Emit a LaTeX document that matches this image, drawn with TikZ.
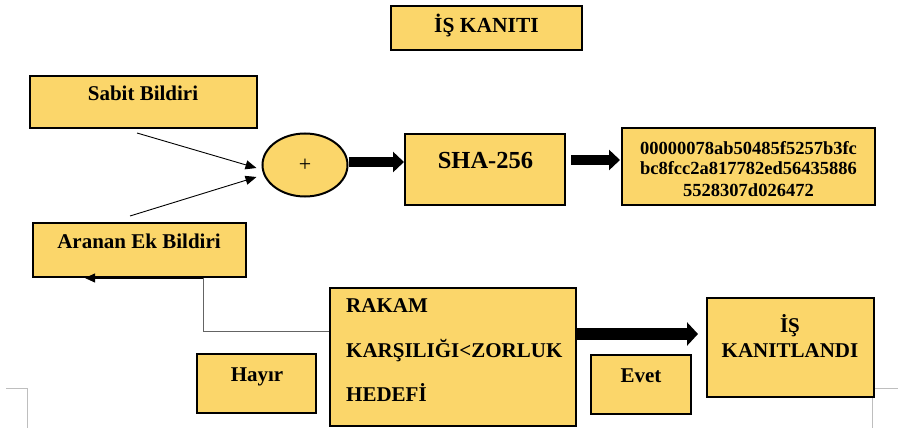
\documentclass[tikz,border=0pt]{standalone}
\usepackage{fontspec}
\setmainfont{Liberation Serif}
\usetikzlibrary{arrows.meta,shapes.geometric}
\definecolor{boxfill}{RGB}{251,214,106}
\definecolor{cornermark}{RGB}{190,190,190}
\definecolor{linkgray}{RGB}{100,100,100}
\begin{document}
\begin{tikzpicture}[x=1pt,y=-1pt,
  box/.style={draw=black, line width=2.4pt, fill=boxfill, rectangle, inner sep=0pt},
  lbl/.style={font=\bfseries\fontsize{21}{24}\selectfont, anchor=base, inner sep=0pt},
  fat/.style={line width=10pt, -{Triangle[length=11pt,width=20pt]}},
  fatter/.style={line width=12pt, -{Triangle[length=11pt,width=23pt]}},
  thin/.style={line width=0.9pt, -{Triangle[length=11pt,width=9pt]}},
  link/.style={draw=linkgray, line width=1pt}]
\useasboundingbox (0,0) rectangle (898,428);

% page corner marks
\draw[cornermark, line width=1pt] (6,388) -- (27,388) -- (27,428);
\draw[cornermark, line width=1pt] (872,428) -- (872,388) -- (898,388);

% boxes
\node[box, minimum width=190.6pt, minimum height=43.6pt] (title) at (486.5,28) {};
\node[box, minimum width=226.6pt, minimum height=51.6pt] (sabit) at (143.5,102) {};
\node[box, minimum width=212.6pt, minimum height=53.6pt] (aranan) at (139.5,250) {};
\node[draw=black, line width=2pt, fill=boxfill, ellipse, inner sep=0pt,
      minimum width=85pt, minimum height=63pt,
      font=\fontsize{22}{22}\selectfont] (plus) at (305,165) {+};
\node[box, minimum width=159.6pt, minimum height=70.6pt] (sha) at (485,169.5) {};
\node[box, minimum width=252.6pt, minimum height=76.6pt] (hash) at (748.5,166.5) {};
\node[box, minimum width=245.6pt, minimum height=137.6pt] (rakam) at (453,357) {};
\node[box, minimum width=118.6pt, minimum height=58.6pt] (hayir) at (256.5,383.5) {};
\node[box, minimum width=99.6pt, minimum height=58.6pt] (evet) at (641,384.5) {};
\node[box, minimum width=166.6pt, minimum height=98.6pt] (kanit) at (790.5,347.5) {};

% texts
\node[lbl, font=\bfseries\fontsize{21.5}{24}\selectfont] at (486.5,33) {İŞ KANITI};
\node[lbl] at (143,100) {Sabit Bildiri};
\node[lbl] at (139,248) {Aranan Ek Bildiri};
\node[lbl, font=\bfseries\fontsize{24.5}{28}\selectfont] at (485.5,168) {SHA-256};
\node[lbl, font=\bfseries\fontsize{18.5}{21}\selectfont] at (748.5,154) {00000078ab50485f5257b3fc};
\node[lbl, font=\bfseries\fontsize{18.5}{21}\selectfont] at (748.5,175) {bc8fcc2a817782ed56435886};
\node[lbl, font=\bfseries\fontsize{18.5}{21}\selectfont] at (748.5,196) {5528307d026472};
\node[lbl, anchor=base west] at (346,312) {RAKAM};
\node[lbl, anchor=base west] at (346,357) {KARŞILIĞI<ZORLUK};
\node[lbl, anchor=base west] at (346,401) {HEDEFİ};
\node[lbl] at (790,332) {İŞ};
\node[lbl] at (790,357) {KANITLANDI};
\node[lbl] at (257,381) {Hayır};
\node[lbl] at (641,382) {Evet};

% inputs into the adder
\coordinate (s1) at ([shift={(-6.5,4)}]sabit.south);
\coordinate (a1) at ([shift={(-9.5,-6)}]aranan.north);
\draw[thin] (s1) -- ([shift={(-5,3)}]plus.west);
\draw[thin] (a1) -- ([shift={(-5,12)}]plus.west);

% block arrows
\coordinate (p0) at ([yshift=3pt]plus.east);
\draw[fat] (p0) -- (p0 -| sha.west);
\coordinate (h0) at ([shift={(5,-9.5)}]sha.east);
\coordinate (h1) at ([xshift=-1pt]hash.west);
\draw[fat] (h0) -- (h0 -| h1);
\coordinate (r0) at ([yshift=23pt]rakam.east);
\coordinate (k1) at ([xshift=-8pt]kanit.west);
\draw[fatter] (r0) -- (r0 -| k1);

% loop back on failure
\coordinate (bend) at ([xshift=63.5pt]aranan.south);
\draw[link] ([yshift=26pt]rakam.west) -| (bend);
\draw[black, line width=0.8pt, -{Triangle[length=10pt,width=9pt]}] (bend) -- ([xshift=-54.5pt]aranan.south);
\end{tikzpicture}
\end{document}
